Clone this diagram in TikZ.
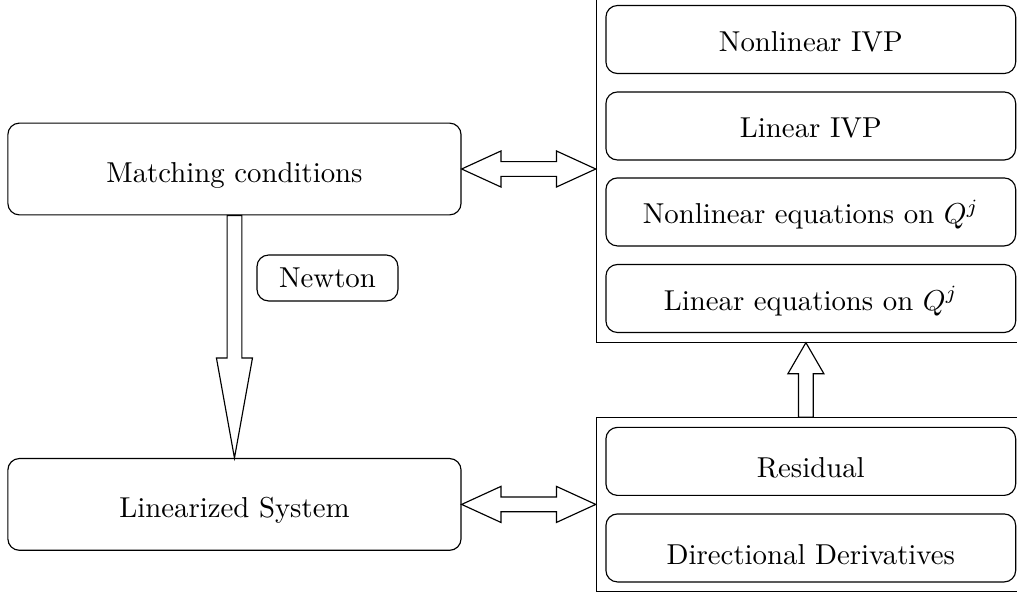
\documentclass[tikz,border=0pt]{standalone}
\usetikzlibrary{calc,fit}

\tikzset{
  box/.style={draw, rounded corners, minimum width=5cm, minimum height=0.83cm,
    text height=8.3pt, text depth=0pt},
  lowbox/.style={box, text height=11.2pt},
  bigbox/.style={box, minimum width=5.53cm, minimum height=1.12cm, text height=9.4pt},
  panel/.style={draw, inner sep=0.11cm},
  fathead/.store in=\fathead, fathead=0.48cm,
  % fat arrow with one head at the target
  fatarrow/.style={draw, fill=white, to path={
    ($(\tikztostart)!0.09cm!90:(\tikztotarget)$)
    -- ($($(\tikztotarget)!\fathead!(\tikztostart)$)!0.09cm!90:(\tikztotarget)$)
    -- ($($(\tikztotarget)!\fathead!(\tikztostart)$)!0.22cm!90:(\tikztotarget)$)
    -- (\tikztotarget)
    -- ($($(\tikztotarget)!\fathead!(\tikztostart)$)!0.22cm!-90:(\tikztotarget)$)
    -- ($($(\tikztotarget)!\fathead!(\tikztostart)$)!0.09cm!-90:(\tikztotarget)$)
    -- ($(\tikztostart)!0.09cm!-90:(\tikztotarget)$)
    -- cycle}},
  % fat arrow with heads at both ends
  fatdouble/.style={draw, fill=white, to path={
    (\tikztostart)
    -- ($($(\tikztostart)!\fathead!(\tikztotarget)$)!0.22cm!90:(\tikztotarget)$)
    -- ($($(\tikztostart)!\fathead!(\tikztotarget)$)!0.09cm!90:(\tikztotarget)$)
    -- ($($(\tikztotarget)!\fathead!(\tikztostart)$)!0.09cm!90:(\tikztotarget)$)
    -- ($($(\tikztotarget)!\fathead!(\tikztostart)$)!0.22cm!90:(\tikztotarget)$)
    -- (\tikztotarget)
    -- ($($(\tikztotarget)!\fathead!(\tikztostart)$)!0.22cm!-90:(\tikztotarget)$)
    -- ($($(\tikztotarget)!\fathead!(\tikztostart)$)!0.09cm!-90:(\tikztotarget)$)
    -- ($($(\tikztostart)!\fathead!(\tikztotarget)$)!0.09cm!-90:(\tikztotarget)$)
    -- ($($(\tikztostart)!\fathead!(\tikztotarget)$)!0.22cm!-90:(\tikztotarget)$)
    -- cycle}}
}

\begin{document}
\begin{tikzpicture}
  \useasboundingbox (0,0) rectangle (12.41,-7.26);
  \clip (0,0) rectangle (12.41,-7.26);

  % left column
  \node[bigbox] (match) at (2.861,-2.062) {Matching conditions};
  \node[bigbox] (lin) at (2.861,-6.155) {Linearized System};
  \node[draw, rounded corners, minimum width=1.72cm, minimum height=0.56cm] (newton) at (3.996,-3.392) {Newton};

  % right column
  \node[box] (nivp) at (9.894,-0.482) {Nonlinear IVP};
  \node[box] (livp) at (9.894,-1.537) {Linear IVP};
  \node[box] (neq) at (9.894,-2.586) {Nonlinear equations on $Q^j$};
  \node[box] (leq) at (9.894,-3.642) {Linear equations on $Q^j$};
  \node[lowbox] (res) at (9.894,-5.630) {Residual};
  \node[lowbox] (dir) at (9.894,-6.686) {Directional Derivatives};
  \node[panel, fit=(nivp) (leq)] (solver) {};
  \node[panel, fit=(res) (dir)] (deriv) {};

  % arrows
  \draw[fatarrow, fathead=1.22cm] (match.south) to (lin.north);
  \draw[fatdouble] (match.east) to (match.east -| solver.west);
  \draw[fatdouble] (lin.east) to (lin.east -| deriv.west);
  \draw[fatarrow, fathead=0.38cm] ([xshift=-0.06cm]deriv.north) to ([xshift=-0.06cm]solver.south);
\end{tikzpicture}
\end{document}
